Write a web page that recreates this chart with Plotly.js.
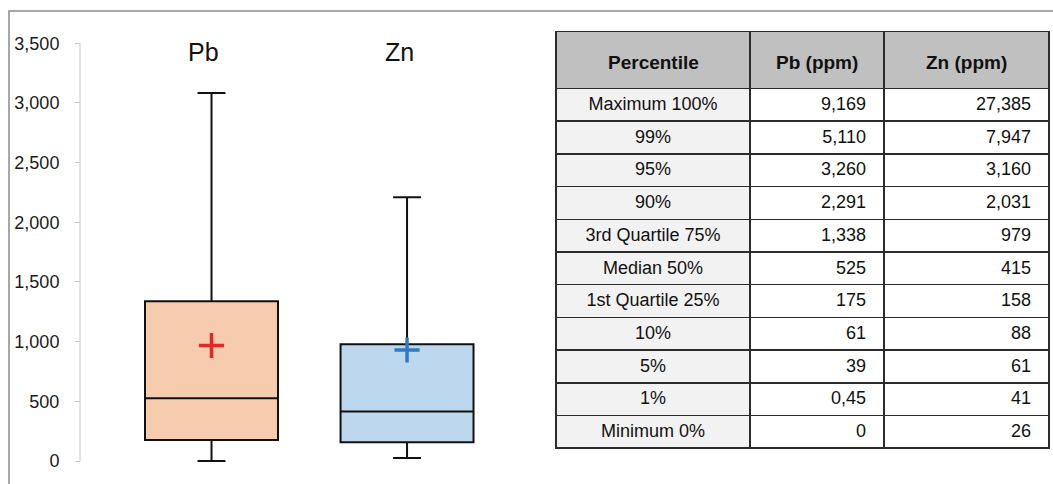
<!DOCTYPE html>
<html>
<head>
<meta charset="utf-8">
<script src="https://cdn.plot.ly/plotly-3.0.1.min.js"></script>
<style>
  html, body { margin: 0; padding: 0; background: #ffffff; }
  #chart { width: 1053px; height: 484px; }
</style>
</head>
<body>
<div id="chart"></div>
<script>
// ---- Box plot data (ppm) ----
const categories = ['Pb', 'Zn'];
const q1Values = [175, 158];
const medianValues = [525, 415];
const q3Values = [1338, 979];
const lowerWhiskers = [0, 26];
const upperWhiskers = [3083, 2211];
const meanValues = [968, 930];
const yTicks = [0, 500, 1000, 1500, 2000, 2500, 3000, 3500];

// ---- Table data ----
const tableHeader = ['Percentile', 'Pb (ppm)', 'Zn (ppm)'];
const percentileLabels = ['Maximum 100%', '99%', '95%', '90%', '3rd Quartile 75%', 'Median 50%',
  '1st Quartile 25%', '10%', '5%', '1%', 'Minimum 0%'];
const pbPercentiles = ['9,169', '5,110', '3,260', '2,291', '1,338', '525', '175', '61', '39', '0,45', '0'];
const znPercentiles = ['27,385', '7,947', '3,160', '2,031', '979', '415', '158', '88', '61', '41', '26'];

// ---- styling ----
const FONT = 'Liberation Sans, Arial, sans-serif';
const boxFills = ['#f7cbad', '#bdd7ee'];
const meanColors = ['#e5262a', '#2e7bc4'];
const W = 1053, H = 484;
const axisX = 80 / W;
const yRange = [-15, 3515];
const tableLeft = 556, tableRight = 1049, tableTop = 31.5, tableBottom = 450.5;
const colWidths = [194, 134, 165];
const headerHeight = 57;
const NBSP = '\u00A0';

const traces = [];
categories.forEach((c, i) => {
  traces.push({
    type: 'box',
    x: [c],
    q1: [q1Values[i]],
    median: [medianValues[i]],
    q3: [q3Values[i]],
    lowerfence: [lowerWhiskers[i]],
    upperfence: [upperWhiskers[i]],
    width: 0.68,
    whiskerwidth: 0.21,
    fillcolor: boxFills[i],
    line: { color: '#111111', width: 2 },
    xaxis: 'x', yaxis: 'y',
    showlegend: false,
    hoverinfo: 'skip'
  });
});
categories.forEach((c, i) => {
  traces.push({
    type: 'scatter',
    mode: 'markers',
    x: [c],
    y: [meanValues[i]],
    marker: { symbol: 'cross-thin', size: 18, line: { color: meanColors[i], width: 3.5 } },
    xaxis: 'x', yaxis: 'y',
    showlegend: false,
    hoverinfo: 'skip'
  });
});

const firstColFill = percentileLabels.map(() => '#f2f2f2');
const otherFill = percentileLabels.map(() => '#ffffff');
traces.push({
  type: 'table',
  domain: { x: [tableLeft / W, tableRight / W], y: [(H - tableBottom) / H, (H - tableTop) / H] },
  columnwidth: colWidths,
  header: {
    values: tableHeader.map(() => ''),
    align: 'center',
    height: headerHeight,
    fill: { color: '#c0c0c0' },
    line: { color: '#2b2b2b', width: 1.5 },
    font: { family: FONT, size: 19, color: '#111111' }
  },
  cells: {
    values: [percentileLabels, pbPercentiles, znPercentiles],
    suffix: ['', NBSP + NBSP, NBSP + NBSP],
    align: ['center', 'right', 'right'],
    height: 32.7,
    fill: { color: [firstColFill, otherFill, otherFill] },
    line: { color: '#2b2b2b', width: 1.5 },
    font: { family: FONT, size: 18, color: '#111111' }
  }
});

// header labels centred in their header cells
const colCenters = [];
let acc = tableLeft;
colWidths.forEach(w => { colCenters.push(acc + w / 2); acc += w; });
const headerAnnotations = tableHeader.map((t, i) => ({
  x: colCenters[i] / W, xref: 'paper',
  y: (H - (tableTop + headerHeight / 2 + 2)) / H, yref: 'paper',
  text: '<b>' + t + '</b>', showarrow: false,
  xanchor: 'center', yanchor: 'middle',
  font: { family: FONT, size: 19, color: '#111111' }
}));

const layout = {
  width: W, height: H,
  margin: { l: 0, r: 0, t: 0, b: 0 },
  paper_bgcolor: '#ffffff',
  plot_bgcolor: 'rgba(0,0,0,0)',
  boxmode: 'overlay',
  showlegend: false,
  hovermode: false,
  font: { family: FONT, color: '#1a1a1a' },
  xaxis: {
    type: 'category',
    domain: [axisX, 540 / W],
    range: [-0.6726, 1.680],
    visible: false,
    fixedrange: true
  },
  yaxis: {
    domain: [(H - 462.8) / H, (H - 41.5) / H],
    range: yRange,
    anchor: 'free',
    position: axisX,
    side: 'left',
    tickvals: yTicks,
    tickformat: ',d',
    ticks: 'outside',
    ticklen: 5,
    tickwidth: 1,
    tickcolor: '#bfcaca',
    ticklabelstandoff: 12,
    showline: false,
    showgrid: false,
    zeroline: false,
    tickfont: { family: FONT, size: 18, color: '#1a1a1a' },
    fixedrange: true
  },
  yaxis2: {
    overlaying: 'y',
    range: yRange,
    anchor: 'free',
    position: axisX,
    side: 'right',
    tickvals: yTicks,
    ticks: 'outside',
    ticklen: 6,
    tickwidth: 1,
    tickcolor: '#bfcaca',
    showticklabels: false,
    showline: false,
    showgrid: false,
    zeroline: false,
    fixedrange: true
  },
  shapes: [
    { type: 'rect', xref: 'paper', yref: 'paper', x0: 9 / W, x1: 1.01, y0: -0.02, y1: (H - 11) / H,
      line: { color: '#8a8a8a', width: 1.5 }, fillcolor: 'rgba(0,0,0,0)', layer: 'below' },
    { type: 'line', xref: 'paper', yref: 'y', x0: axisX, x1: axisX, y0: yTicks[0], y1: yTicks[yTicks.length - 1],
      line: { color: '#bfcaca', width: 1 }, layer: 'below' }
  ],
  annotations: categories.map(c => ({
    x: c, xref: 'x', y: (H - 52) / H, yref: 'paper',
    text: c, showarrow: false, xshift: -8,
    xanchor: 'center', yanchor: 'middle',
    font: { family: FONT, size: 25, color: '#111111' }
  })).concat(headerAnnotations)
};

Plotly.newPlot('chart', traces, layout, { staticPlot: true, displayModeBar: false });
</script>
</body>
</html>
